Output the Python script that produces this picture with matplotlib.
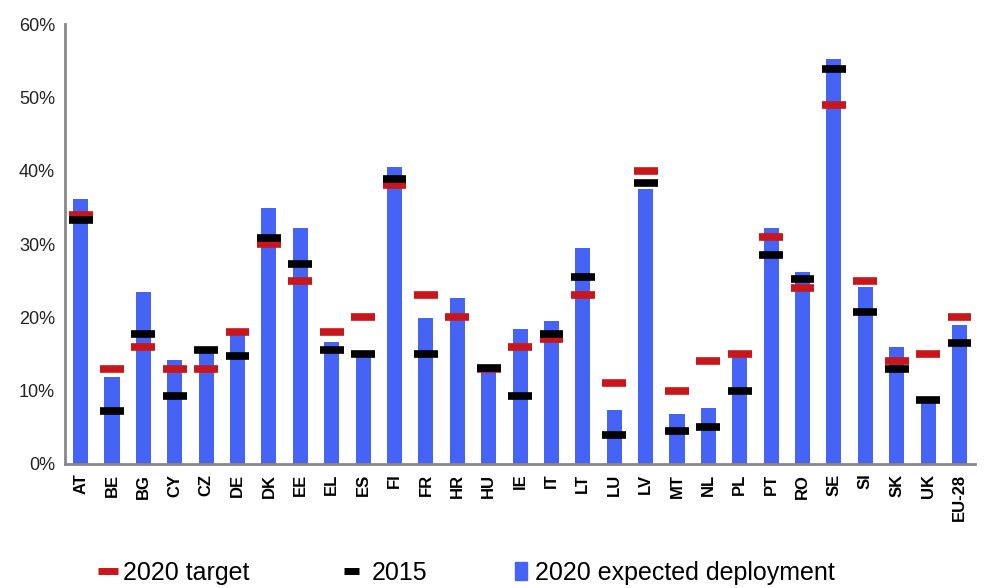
import matplotlib
matplotlib.use('Agg')
import matplotlib.pyplot as plt
import numpy as np
from matplotlib.lines import Line2D
from matplotlib.patches import Patch

plt.rcParams['font.family'] = ['Liberation Sans', 'DejaVu Sans']

# data (share of renewables, %)
countries = ['AT', 'BE', 'BG', 'CY', 'CZ', 'DE', 'DK', 'EE', 'EL', 'ES', 'FI', 'FR', 'HR', 'HU',
             'IE', 'IT', 'LT', 'LU', 'LV', 'MT', 'NL', 'PL', 'PT', 'RO', 'SE', 'SI', 'SK', 'UK', 'EU-28']
expected_2020 = [36.2, 11.9, 23.5, 14.2, 15.3, 17.9, 34.9, 32.2, 16.7, 15.4, 40.5, 19.9, 22.6, 13.2,
                 18.4, 19.5, 29.5, 7.4, 37.5, 6.8, 7.6, 14.6, 32.2, 26.2, 55.2, 24.1, 16.0, 8.3, 19.0]
target_2020 = [34, 13, 16, 13, 13, 18, 30, 25, 18, 20, 38, 23, 20, 13,
               16, 17, 23, 11, 40, 10, 14, 15, 31, 24, 49, 25, 14, 15, 20]
actual_2015 = [33.3, 7.2, 17.7, 9.3, 15.6, 14.7, 30.8, 27.3, 15.6, 15.0, 38.9, 15.0, None, 13.1,
               9.3, 17.7, 25.5, 4.0, 38.3, 4.5, 5.1, 9.9, 28.5, 25.2, 53.9, 20.7, 13.0, 8.7, 16.5]

BLUE = '#4563f4'
RED = '#c8161b'

fig = plt.figure(figsize=(9.84, 5.88), dpi=100)
ax = fig.add_axes([0.066, 0.211, 0.925, 0.748])

x = np.arange(len(countries))
ax.bar(x, expected_2020, width=0.48, color=BLUE, zorder=2)

w = 0.38
for i in range(len(countries)):
    ax.hlines(target_2020[i], x[i] - w, x[i] + w, color=RED, lw=5.5, zorder=3)
    if actual_2015[i] is not None:
        ax.hlines(actual_2015[i], x[i] - w, x[i] + w, color='black', lw=5.5, zorder=4)

ax.set_xlim(-0.5, len(countries) - 0.5)
ax.set_ylim(0, 60)
ax.set_yticks(range(0, 61, 10))
ax.set_yticklabels(['%d%%' % v for v in range(0, 61, 10)], fontsize=13, color='#222222')
ax.set_xticks(x)
ax.set_xticklabels(countries, rotation=90, fontsize=12, fontweight='bold')
ax.tick_params(length=0, pad=7)

for s in ['top', 'right']:
    ax.spines[s].set_visible(False)
for s in ['left', 'bottom']:
    ax.spines[s].set_color('#888888')
    ax.spines[s].set_linewidth(2)

# legend pieces placed separately to match spacing of the original
legend_items = [
    (Line2D([], [], color=RED, lw=5, solid_capstyle='butt'), '2020 target', 0.100, 0.8, 0.2),
    (Line2D([], [], color='black', lw=5, solid_capstyle='butt'), '2015', 0.350, 0.6, 0.5),
    (Patch(color=BLUE), '2020 expected deployment', 0.523, 0.5, 0.3),
]
for h, lab, xpos, hl, tp in legend_items:
    fig.legend([h], [lab], loc='center left', bbox_to_anchor=(xpos, 0.026),
               frameon=False, fontsize=18, handlelength=hl, handletextpad=tp,
               borderpad=0, borderaxespad=0)

fig.savefig('out.png', dpi=100)
